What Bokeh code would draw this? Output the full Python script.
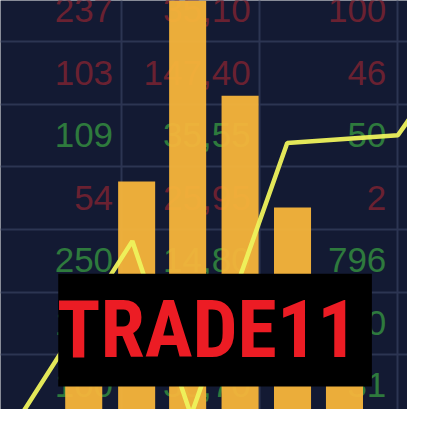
from bokeh.core.properties import value
from bokeh.embed import file_html
from bokeh.models import FixedTicker
from bokeh.plotting import figure
from bokeh.resources import INLINE

# -- data (x in px from left, y in px from bottom of a 423x425 board)
bar_x = [86.5, 141.5, 194.5, 249, 303.5, 357.5]
bar_values = [95, 237, 440, 326, 210, 75]

line_x = [20, 137, 198, 298, 413, 432]
line_y = [-8, 175, -6, 277, 285, 312]

# quote board behind the bars
row_y = [415, 350, 285, 220, 155, 90, 25]
row_kind = ["down", "down", "up", "down", "up", "up", "up"]
col1 = ["237", "103", "109", "54", "250", "150", "100"]
col2 = ["35,10", "147,40", "35,55", "25,95", "14,80", "12,30", "30,70"]
col3 = ["100", "46", "50", "2", "796", "20", "31"]
col_right = [117, 260, 401]

grid_x = [-17, 126, 269, 413]
grid_y = [57, 122, 187, 252, 317, 382]

brand = "TRADE11"

BG = "#131a33"
RED = "#6a2131"
GREEN = "#2e7a3d"

p = figure(width=407, height=409, x_range=(0, 423), y_range=(0, 425),
           min_border=0, toolbar_location=None, output_backend="svg",
           background_fill_color=BG, border_fill_color=BG)
p.outline_line_color = None
p.axis.visible = False
p.xgrid.ticker = FixedTicker(ticks=grid_x)
p.ygrid.ticker = FixedTicker(ticks=grid_y)
p.grid.grid_line_color = "#2c3552"
p.grid.grid_line_width = 2

#  -- numbers
colors = [RED if k == "down" else GREEN for k in row_kind]
for xr, col in zip(col_right, [col1, col2, col3]):
    p.text(x=[xr] * len(col), y=row_y, text=col, text_color=colors,
           text_font=value("Liberation Sans"), text_font_size="35px",
           text_align="right", text_baseline="middle")

#  -- bars & trend line
p.vbar(x=bar_x, top=bar_values, bottom=0, width=38.5,
       fill_color="#f7b53b", fill_alpha=0.95, line_color=None)
p.line(line_x, line_y, line_color="#eef25c", line_width=4.5, line_alpha=0.95)

#  -- brand badge
p.quad(left=[60], right=[386], bottom=[24], top=[141], fill_color="black",
       line_color=None)
p.text(x=[215], y=[83], text=[brand], text_color="#ec1c24",
       text_font=value("Roboto Condensed"), text_font_style="bold",
       text_font_size="80px", text_align="center", text_baseline="middle")

open("out.html", "w").write(file_html(p, INLINE))
